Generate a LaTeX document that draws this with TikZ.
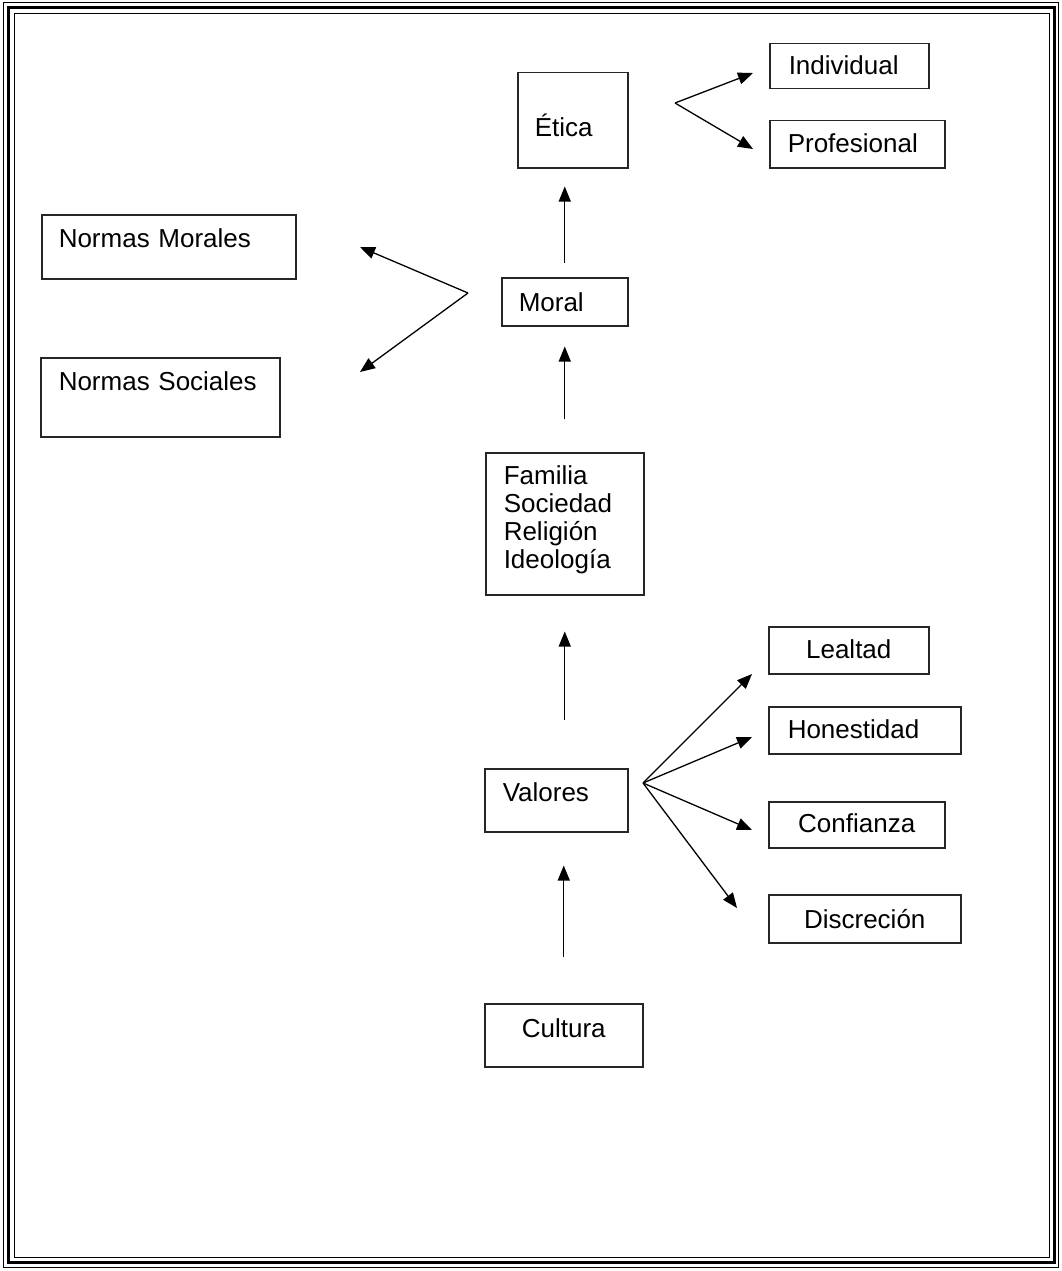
\documentclass[tikz,border=0pt]{standalone}
\usepackage{fontspec}
\setmainfont{Liberation Sans}
\usetikzlibrary{arrows.meta}

\begin{document}
\begin{tikzpicture}[x=1pt,y=-1pt]
            \tikzset{Box/.style={%
                shape=rectangle,%
                draw=black!85,%
                line width=1.5pt,%
                inner xsep=18pt,%
                inner ysep=0pt,%
                anchor=north west,%
                align=left,%
                font=\fontsize{26}{28}\selectfont,%
            }}
            \tikzset{Arrow/.style={%
                -{Triangle[length=15pt,width=12pt]},%
                line width=1.3pt,%
            }}

            \useasboundingbox (0,0) rectangle (1061,1271);
            \draw[line width=1pt] (3,3) rectangle (1058,1267);
            \draw[line width=3pt] (8,8) rectangle (1054,1262);
            \draw[line width=1pt] (14,14) rectangle (1049,1257);

            \node[Box, inner xsep=17pt, text width=76pt, text height=64pt, text depth=31pt] (etica) at (517,72) {Ética};
            \node[Box, inner xsep=19pt, text width=121pt, text height=31pt, text depth=14pt] (indiv) at (769,43) {Individual};
            \node[Box, text width=139pt, text height=32pt, text depth=15pt] (prof) at (769,120) {Profesional};
            \node[Box, inner xsep=17pt, text width=220pt, text height=33pt, text depth=31pt] (nmor) at (41,214) {Normas Morales};
            \node[Box, text width=203pt, text height=33pt, text depth=46pt] (nsoc) at (40,357) {Normas Sociales};
            \node[Box, inner xsep=17pt, text width=92pt, text height=34pt, text depth=14pt] (moral) at (501,277) {Moral};
            \node[Box, text width=122pt, text height=32pt, text depth=110pt] (fam) at (485,452) {Familia\\Sociedad\\Religión\\Ideología};
            \node[Box, text width=107pt, text height=33pt, text depth=30pt] (val) at (484,768) {Valores};
            \node[Box, inner xsep=10pt, align=center, text width=138pt, text height=34pt, text depth=29pt] (cult) at (484,1003) {Cultura};
            \node[Box, inner xsep=10pt, align=center, text width=140pt, text height=32pt, text depth=15pt] (leal) at (768,626) {Lealtad};
            \node[Box, inner xsep=19pt, text width=154pt, text height=32pt, text depth=15pt] (hon) at (768,706) {Honestidad};
            \node[Box, inner xsep=10pt, align=center, text width=156pt, text height=31pt, text depth=15pt] (conf) at (768,801) {Confianza};
            \node[Box, inner xsep=10pt, align=center, text width=172pt, text height=34pt, text depth=14pt] (disc) at (768,894) {Discreción};

            \coordinate (eticaFork) at (675,103);
            \coordinate (toIndiv) at (753,73);
            \coordinate (toProf) at (753,149);
            \coordinate (moralFork) at (468,293);
            \coordinate (toNMor) at (360,247);
            \coordinate (toNSoc) at (360,372);
            \coordinate (valFork) at (643,783);
            \coordinate (toLeal) at (752,674);
            \coordinate (toHon) at (752,737);
            \coordinate (toConf) at (752,830);
            \coordinate (toDisc) at (737,908);

            \path (cult.north) edge[Arrow, shorten <=46pt, shorten >=33pt] (cult.north |- val.south);
            \path (fam.south |- val.north) edge[Arrow, shorten <=48pt, shorten >=36pt] (fam.south);
            \path (fam.north) edge[Arrow, shorten <=33pt, shorten >=20pt] (fam.north |- moral.south);
            \path (moral.north) edge[Arrow, shorten <=14pt, shorten >=18pt] (moral.north |- etica.south);

            \path (eticaFork) edge[Arrow] (toIndiv);
            \path (eticaFork) edge[Arrow] (toProf);
            \path (moralFork) edge[Arrow] (toNMor);
            \path (moralFork) edge[Arrow] (toNSoc);
            \path (valFork) edge[Arrow] (toLeal);
            \path (valFork) edge[Arrow] (toHon);
            \path (valFork) edge[Arrow] (toConf);
            \path (valFork) edge[Arrow] (toDisc);
        \end{tikzpicture}
\end{document}
